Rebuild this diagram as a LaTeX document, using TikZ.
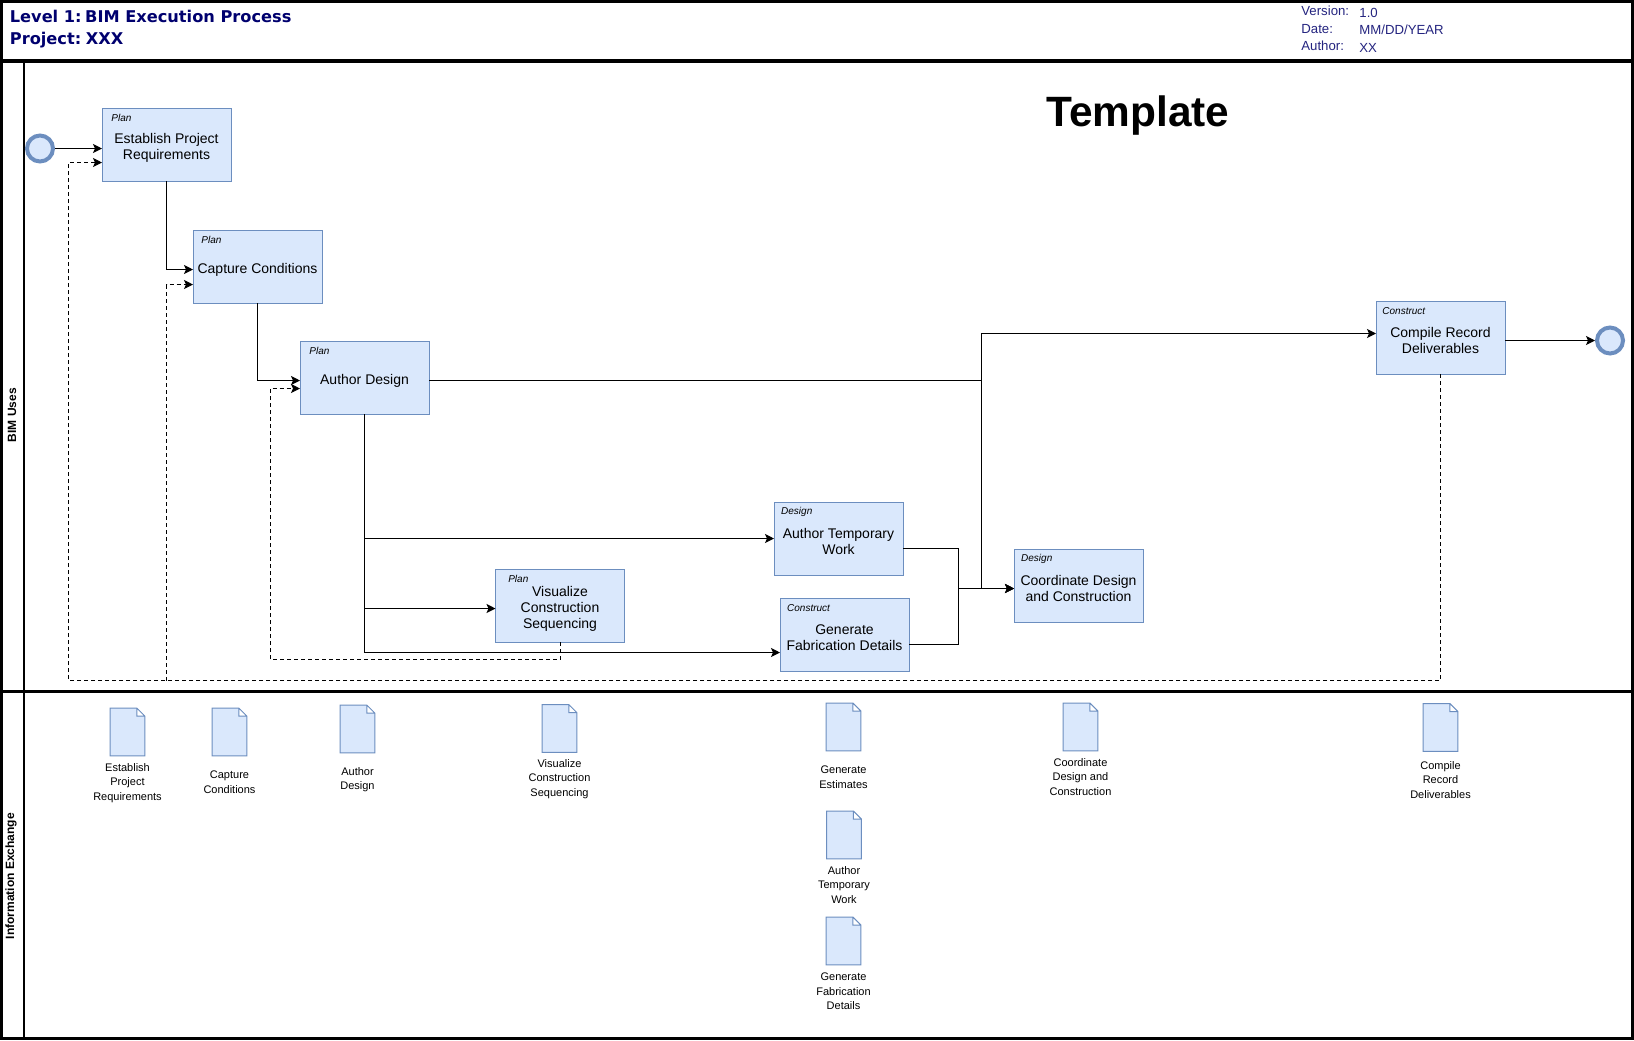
\documentclass[tikz,border=0pt]{standalone}
\usepackage{fontspec}
\setmainfont{Liberation Sans}
\newfontfamily\headfont{DejaVu Sans}
\usepackage{tikz}
\usetikzlibrary{arrows.meta,positioning}
\definecolor{taskfill}{HTML}{DAE8FC}
\definecolor{taskline}{HTML}{6C8EBF}
\definecolor{headblue}{HTML}{00006E}
\definecolor{metablue}{HTML}{24247F}
\tikzset{
  %Define standard arrow tip
  >={Stealth[length=4.5pt,width=4.5pt,inset=1pt]},
  %Define style for boxes
  tasktext/.style={
    align=center, inner sep=0pt, yshift=-1.6pt,
    font=\fontsize{7}{8}\selectfont},
  taskbox/.style={
    rectangle,
    draw=taskline, fill=taskfill, line width=.5pt,
    minimum width=64.5pt, minimum height=36.5pt,
    inner sep=0pt, outer sep=0pt,
    label={[tasktext]center:{#1}}},
  tagtext/.style={
    anchor=west, inner sep=0pt,
    font=\itshape\fontsize{5}{6}\selectfont},
  event/.style={
    circle, draw=taskline, fill=taskfill, line width=2pt,
    minimum size=13pt, inner sep=0pt},
  docsheet/.style={
    rectangle, inner sep=0pt,
    minimum width=17pt, minimum height=23.5pt},
  doctext/.style={
    align=center, inner sep=0pt,
    font=\fontsize{5.5}{7.25}\selectfont},
  % Define arrow styles
  flow/.style={->, line width=.6pt},
  rework/.style={->, line width=.5pt, dash pattern=on 2pt off 1.5pt},
  lanetext/.style={
    rotate=90, inner sep=0pt,
    font=\bfseries\fontsize{6}{7}\selectfont},
  headtext/.style={
    anchor=west, inner sep=0pt, text=headblue,
    font=\headfont\bfseries\fontsize{8.1}{11.5}\selectfont},
  metatext/.style={
    anchor=north west, inner sep=0pt, align=left, text=metablue,
    font=\fontsize{6.6}{8.6}\selectfont}
}
% document icon with a folded corner
\newcommand{\docicon}[2]{
  \node[docsheet] (#1) at (#2) {};
  \draw[draw=taskline, fill=taskfill, line width=.5pt]
    (#1.north west) -- ([xshift=-4pt]#1.north east) -- ([yshift=-4pt]#1.north east)
    -- (#1.south east) -- (#1.south west) -- cycle
    ([xshift=-4pt]#1.north east) -- ([xshift=-4pt,yshift=-4pt]#1.north east) -- ([yshift=-4pt]#1.north east);
}

\begin{document}
\begin{tikzpicture}[x=.5pt,y=-.5pt]
      \useasboundingbox (0,0) rectangle (1634,1040);
      % frame and lanes
      \draw[line width=1.5pt] (1.5,1.5) rectangle (1632,1038.5);
      \draw[line width=2pt] (0,60.5) -- (1634,60.5);
      \draw[line width=1.5pt] (0,691.5) -- (1634,691.5);
      \draw[line width=1.3pt] (24,60.5) -- (24,1038.5);
      \node[lanetext] (bimlane) at (12,415) {BIM Uses};
      \node[lanetext] (infolane) at (11,876) {Information Exchange};
      % header
      \node[headtext] (level) at (9.5,16.5) {Level 1:\kern-2pt{} BIM Execution Process};
      \node[headtext] (project) at (9.5,40) {Project:\kern-1.5pt{} XXX};
      \node[metatext] (metalabels) at (1301,6) {Version:\\Date:\\Author:};
      \node[metatext] (metavalues) at (1359,8) {1.0\\MM/DD/YEAR\\XX};
      \node[font=\bfseries\fontsize{21.2}{25}\selectfont] (template) at (1138,116) {Template};
      % tasks
      \node[event] (startevent) at (40,148.5) {};
      \node[taskbox={Establish Project\\Requirements}] (establish) at (166.5,144.5) {};
      \node[taskbox={Capture Conditions}, below right=24.5pt and -19pt of establish] (capture) {};
      \node[taskbox={Author Design}, below right=19pt and -11pt of capture] (authordesign) {};
      \node[taskbox={Visualize\\Construction\\Sequencing}, below right=77.5pt and 33.25pt of authordesign] (visualize) {};
      \node[taskbox={Author Temporary\\Work}, below right=44pt and 172.5pt of authordesign] (authortemp) {};
      \node[taskbox={Generate\\Fabrication Details}, below right=11.5pt and -61.5pt of authortemp] (fabrication) {};
      \node[taskbox={Coordinate Design\\and Construction}, below right=-13pt and 55.5pt of authortemp] (coordinate) {};
      \node[taskbox={Compile Record\\Deliverables}, right=473.5pt of authordesign, yshift=20pt] (compile) {};
      \node[event] (endevent) at (1610,340.5) {};
      % tags
      \node[tagtext] (establishtag) at ([xshift=4.5pt,yshift=-5pt]establish.north west) {Plan};
      \node[tagtext] (capturetag) at ([xshift=4pt,yshift=-5pt]capture.north west) {Plan};
      \node[tagtext] (authordesigntag) at ([xshift=4.5pt,yshift=-5pt]authordesign.north west) {Plan};
      \node[tagtext] (visualizetag) at ([xshift=6.2pt,yshift=-5pt]visualize.north west) {Plan};
      \node[tagtext] (authortemptag) at ([xshift=3.4pt,yshift=-5pt]authortemp.north west) {Design};
      \node[tagtext] (fabricationtag) at ([xshift=3.4pt,yshift=-5pt]fabrication.north west) {Construct};
      \node[tagtext] (coordinatetag) at ([xshift=3.4pt,yshift=-5pt]coordinate.north west) {Design};
      \node[tagtext] (compiletag) at ([xshift=3pt,yshift=-5pt]compile.north west) {Construct};
      % connector ends
      \coordinate (establishback) at ([yshift=-9pt]establish.west);
      \coordinate (capturein) at ([yshift=-1.5pt]capture.west);
      \coordinate (captureback) at ([yshift=-9pt]capture.west);
      \coordinate (authorin) at ([yshift=-1.5pt]authordesign.west);
      \coordinate (authorback) at ([yshift=-5.5pt]authordesign.west);
      \coordinate (authorout) at ([yshift=-1.5pt]authordesign.east);
      \coordinate (visualizein) at ([yshift=-1.5pt]visualize.west);
      \coordinate (fabricationin) at ([yshift=-9pt]fabrication.west);
      \coordinate (tempout) at ([yshift=-5pt]authortemp.east);
      \coordinate (fabricationout) at ([yshift=-5pt]fabrication.east);
      \coordinate (coordinatein) at ([yshift=-1.5pt]coordinate.west);
      \coordinate (compilein) at ([yshift=2pt]compile.west);
      \coordinate (merge) at (958.5,588.5);
      \coordinate (split) at (981.5,380.5);
      \coordinate (backleft) at (68.5,680.5);
      \coordinate (backmid) at (166.5,680.5);
      \coordinate (reworkleft) at (270,659.5);
      % connectors
      \draw[flow] (startevent) -- (startevent -| establish.west);
      \draw[flow] (establish.south) |- (capturein);
      \draw[flow] (capture.south) |- (authorin);
      \draw[flow] (authordesign.south) |- (authortemp.west);
      \draw[flow] (authordesign.south) |- (visualizein);
      \draw[flow] (authordesign.south) |- (fabricationin);
      \draw[flow] (tempout) -| (merge) -- (coordinatein);
      \draw[flow] (fabricationout) -| (merge) -- (coordinatein);
      \draw[flow] (authorout) -- (split) |- (coordinatein);
      \draw[flow] (authorout) -- (split) |- (compilein);
      \draw[flow] (compile.east |- endevent) -- (endevent);
      \draw[rework] (compile.south) |- (backleft) |- (establishback);
      \draw[rework] (backmid) |- (captureback);
      \draw[rework] (visualize.south) |- (reworkleft) |- (authorback);
      % documents
      \docicon{estdoc}{127.5,732}
      \docicon{capdoc}{229.5,732}
      \docicon{authdoc}{357.5,729}
      \docicon{visdoc}{559.5,728.5}
      \docicon{costdoc}{843.5,727}
      \docicon{tempdoc}{844,835}
      \docicon{fabdoc}{843.5,941}
      \docicon{coorddoc}{1080.5,727}
      \docicon{compdoc}{1440.5,727.5}
      \node[doctext, below=3.5pt of estdoc] (estlabel) {Establish\\Project\\Requirements};
      \node[doctext, below=7.5pt of capdoc] (caplabel) {Capture\\Conditions};
      \node[doctext, below=7pt of authdoc] (authlabel) {Author\\Design};
      \node[doctext, below=3.3pt of visdoc] (vislabel) {Visualize\\Construction\\Sequencing};
      \node[doctext, below=7.5pt of costdoc] (costlabel) {Generate\\Estimates};
      \node[doctext, below=3.4pt of tempdoc] (templabel) {Author\\Temporary\\Work};
      \node[doctext, below=4pt of fabdoc] (fablabel) {Generate\\Fabrication\\Details};
      \node[doctext, below=3.5pt of coorddoc] (coordlabel) {Coordinate\\Design and\\Construction};
      \node[doctext, below=4.8pt of compdoc] (complabel) {Compile\\Record\\Deliverables};
    \end{tikzpicture}
\end{document}
